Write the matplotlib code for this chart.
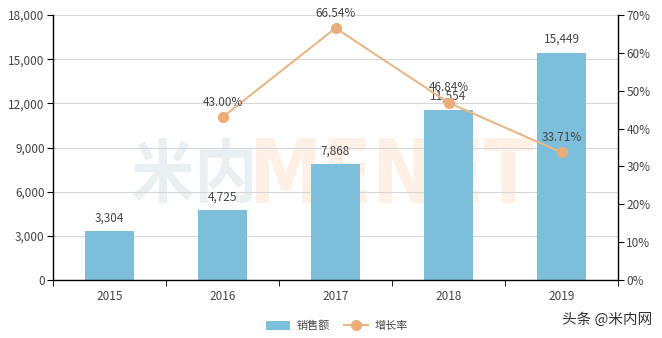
import matplotlib
matplotlib.use('Agg')
import matplotlib.pyplot as plt
import numpy as np
from matplotlib.textpath import TextPath
from matplotlib.patches import PathPatch, Patch
from matplotlib.lines import Line2D
from matplotlib.font_manager import FontProperties
from matplotlib.transforms import Affine2D, IdentityTransform
from matplotlib.ticker import FuncFormatter, MultipleLocator

plt.rcParams['font.family'] = ['Noto Sans CJK SC', 'DejaVu Sans']

years = ['2015', '2016', '2017', '2018', '2019']
sales = [3304, 4725, 7868, 11554, 15449]
growth_years = ['2016', '2017', '2018', '2019']
growth = [43.00, 66.54, 46.84, 33.71]

W, H = 662, 338
BAR = '#7dbedb'
LINE = '#e9b783'
MARK = '#eaad78'
TXT = '#444444'

fig = plt.figure(figsize=(W / 100, H / 100), dpi=100)
ax = fig.add_axes([53 / W, 1 - 280 / H, 565 / W, 265 / H])
ax.patch.set_alpha(0)


def fit_text(s, x0, y0, x1, y1, color, family, weight='bold'):
    fp = FontProperties(family=family, weight=weight)
    path = TextPath((0, 0), s, size=100, prop=fp)
    bb = path.get_extents()
    sx = (x1 - x0) / bb.width
    sy = (y1 - y0) / bb.height
    tr = Affine2D().translate(-bb.x0, -bb.y0).scale(sx, sy).translate(x0, H - y1)
    p = PathPatch(tr.transform_path(path), facecolor=color, edgecolor='none',
                  transform=IdentityTransform(), zorder=-5)
    fig.add_artist(p)


fit_text('米内', 133, 138, 252, 203, '#e9f0f3', ['Noto Sans CJK SC'])
fit_text('MENET', 256, 138, 533, 203, '#fef0e5', ['DejaVu Sans'])

x = np.arange(len(years))
ax.bar(x, sales, width=0.44, color=BAR, zorder=2)
ax.set_xlim(-0.5, len(years) - 0.5)
ax.set_ylim(0, 18000)
ax.yaxis.set_major_locator(MultipleLocator(3000))
ax.yaxis.set_major_formatter(FuncFormatter(lambda v, p: f'{int(v):,}'))
ax.grid(axis='y', color='#d6d6d6', lw=0.8, zorder=0)
ax.set_axisbelow(True)
ax.set_xticks(x)
ax.set_xticklabels(years)
ax.set_xticks(np.arange(-0.5, len(years), 1), minor=True)
ax.tick_params(axis='x', which='major', length=0, pad=7, labelsize=8.5, labelcolor=TXT)
ax.tick_params(axis='x', which='minor', length=4, color='black')
ax.tick_params(axis='y', length=4, color='black', labelsize=8.5, labelcolor=TXT, pad=2)
for s in ['top', 'right']:
    ax.spines[s].set_visible(False)
for s in ['left', 'bottom']:
    ax.spines[s].set_color('black')
    ax.spines[s].set_linewidth(1)

for xi, v in zip(x, sales):
    ax.annotate(f'{v:,}', (xi, v), xytext=(0, 5), textcoords='offset points',
                ha='center', va='bottom', fontsize=8.5, color=TXT, zorder=3)

ax2 = ax.twinx()
ax2.patch.set_alpha(0)
ax2.set_ylim(0, 70)
ax2.yaxis.set_major_locator(MultipleLocator(10))
ax2.yaxis.set_major_formatter(FuncFormatter(lambda v, p: f'{int(v)}%'))
ax2.tick_params(axis='y', length=4, color='black', labelsize=8.5, labelcolor=TXT, pad=2)
for s in ['top', 'left', 'bottom']:
    ax2.spines[s].set_visible(False)
ax2.spines['right'].set_color('black')
ax2.spines['right'].set_linewidth(1)

gx = [years.index(y) for y in growth_years]
ax2.plot(gx, growth, color=LINE, lw=1.5, marker='o', markersize=7,
         markerfacecolor=MARK, markeredgecolor=MARK, zorder=4)
for xi, v in zip(gx, growth):
    ax2.annotate(f'{v:.2f}%', (xi, v), xytext=(0, 6), textcoords='offset points',
                 ha='center', va='bottom', fontsize=8.5, color=TXT, zorder=5)

handles = [Patch(facecolor=BAR, edgecolor='none'),
           Line2D([0], [0], color=LINE, lw=1.5, marker='o', markersize=7,
                  markerfacecolor=MARK, markeredgecolor=MARK)]
fig.legend(handles, ['销售额', '增长率'], loc='center', bbox_to_anchor=(337 / W, 1 - 326 / H),
           ncol=2, frameon=False, fontsize=8, handlelength=2.2, handleheight=0.9,
           columnspacing=1.2, handletextpad=0.6, labelcolor=TXT)

fig.text(652 / W, 1 - 320 / H, '头条 @米内网', ha='right', va='center', fontsize=10.5, color='#333333')

fig.savefig('out.png', dpi=100)
